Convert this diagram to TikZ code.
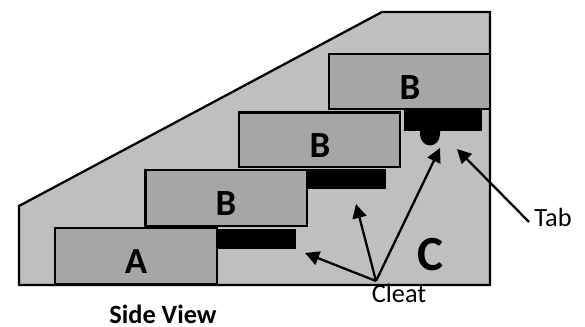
\documentclass[tikz,border=0pt]{standalone}
\usepackage{fontspec}
\setmainfont{Carlito}
\usetikzlibrary{arrows.meta}
\definecolor{bodygray}{HTML}{BFBFBF}
\definecolor{plankgray}{HTML}{A6A6A6}
\tikzset{
	outline/.style={draw=black,line width=1.3pt},
	plank/.style={outline,fill=plankgray},
	cleat/.style={fill=black},
	letter/.style={font=\fontsize{21}{21}\selectfont\bfseries,inner sep=0pt},
	callout/.style={font=\fontsize{15}{15}\selectfont,inner sep=0pt},
	pointer/.style={line width=1.3pt,-{Triangle[length=8pt,width=8pt]}}
}
\begin{document}
\begin{tikzpicture}[x=0.02cm,y=-0.02cm]
	\useasboundingbox (0,0) rectangle (585,327);
	% housing
	\draw[outline,fill=bodygray,line join=miter] (19,206)--(382,12)--(490,12)--(490,285)--(19,285)--cycle;
	% cleats and tab
	\fill[cleat] (217,229) rectangle (296,249);
	\fill[cleat] (307,169) rectangle (386,189);
	\fill[cleat] (404,110) rectangle (482,131);
	\fill[cleat] (420,130) -- (420,134) arc (180:360:10 and -11.5) -- (440,130) -- cycle;
	% planks
	\draw[plank] (55,228) rectangle (217,284.5);
	\draw[plank] (145.5,170) rectangle (307,226);
	\draw[plank] (239,112.5) rectangle (400,167);
	\draw[plank] (329,54) rectangle (490,109);
	% letters
	\node[letter] (lblA) at (136,262) {A};
	\node[letter] (lblBa) at (226,204) {B};
	\node[letter] (lblBb) at (320,146) {B};
	\node[letter] (lblBc) at (410,88) {B};
	\node[letter,font=\fontsize{28}{28}\selectfont\bfseries] (lblC) at (431,255) {C};
	\node[callout,font=\fontsize{15}{15}\selectfont\bfseries] (side) at (163,314) {Side View};
	\node[callout] (cleatlbl) at (399,293) {Cleat};
	\node[callout] (tablbl) at (553,217) {Tab};
	% arrows
	\coordinate (root) at (376,281);
	\coordinate (tipa) at (305,253);
	\coordinate (tipb) at (356,204);
	\coordinate (tipc) at (440,148);
	\coordinate (tipd) at (457,149);
	\coordinate (tabend) at (529,222);
	\draw[pointer] (root)--(tipa);
	\draw[pointer] (root)--(tipb);
	\draw[pointer] (root)--(tipc);
	\draw[pointer] (tabend)--(tipd);
\end{tikzpicture}
\end{document}
